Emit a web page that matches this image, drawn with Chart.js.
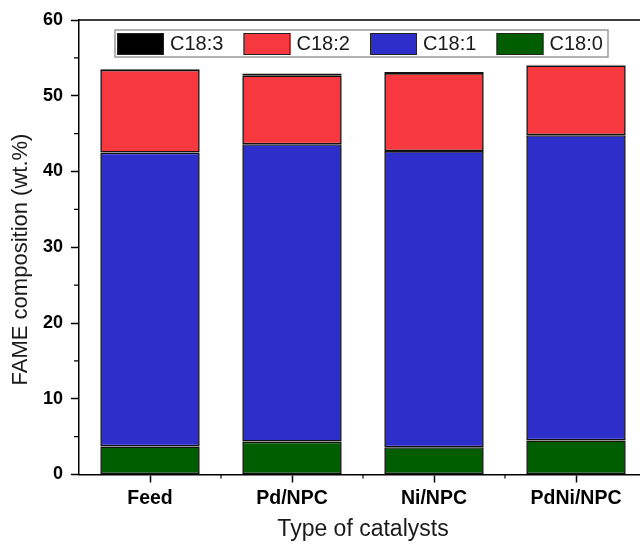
<!DOCTYPE html>
<html>
<head>
<meta charset="utf-8">
<script src="https://cdn.jsdelivr.net/npm/chart.js@4"></script>
<style>
html,body{margin:0;padding:0;overflow:hidden;background:#fff;}
#wrap{position:relative;width:660px;height:545px;}
</style>
</head>
<body>
<div id="wrap"><canvas id="c"></canvas></div>
<script>
const categories = ['Feed', 'Pd/NPC', 'Ni/NPC', 'PdNi/NPC'];
const seriesLabels = ['C18:0', 'C18:1', 'C18:2', 'C18:3'];
const c180 = [3.7, 4.35, 3.6, 4.5];
const c181 = [38.8, 39.25, 39.1, 40.3];
const c182 = [10.9, 9.1, 10.3, 9.2];
const c183 = [0.1, 0.25, 0.15, 0.1];
const seriesColors = ['#005E00', '#2E2ECB', '#F8383F', '#000000'];
const yMin = 0, yMax = 60, yMajorStep = 10, yMinorStep = 5;

const seriesValues = [c180, c181, c182, c183];

const framePlugin = {
  id: 'frameAndLegend',
  afterDraw(chart) {
    const ctx = chart.ctx;
    const a = chart.chartArea;
    const xs = chart.scales.x, ys = chart.scales.y;
    ctx.save();
    ctx.strokeStyle = '#000';
    ctx.lineWidth = 1.5;
    ctx.beginPath();
    ctx.moveTo(a.left, a.top);
    ctx.lineTo(a.right, a.top);
    ctx.lineTo(a.right, a.bottom);
    ctx.stroke();
    ctx.lineWidth = 1.2;
    ctx.beginPath();
    for (let v = yMin + yMinorStep; v < yMax; v += yMajorStep) {
      const py = ys.getPixelForValue(v);
      ctx.moveTo(a.left, py);
      ctx.lineTo(a.left - 5, py);
    }
    for (let i = 0; i < categories.length - 1; i++) {
      const px = (xs.getPixelForValue(i) + xs.getPixelForValue(i + 1)) / 2;
      ctx.moveTo(px, a.bottom);
      ctx.lineTo(px, a.bottom + 4);
    }
    ctx.stroke();
    const bx = 115, by = 30, bw = 493, bh = 27;
    ctx.fillStyle = '#fff';
    ctx.fillRect(bx, by, bw, bh);
    ctx.strokeStyle = '#9a9a9a';
    ctx.lineWidth = 1.5;
    ctx.strokeRect(bx, by, bw, bh);
    ctx.font = '20px "Liberation Sans", Arial, sans-serif';
    ctx.textBaseline = 'middle';
    const order = chart.data.datasets.map((d, i) => i).reverse();
    order.forEach((di, k) => {
      const ds = chart.data.datasets[di];
      const sx = bx + 2 + k * 126.5;
      ctx.fillStyle = ds.backgroundColor;
      ctx.fillRect(sx, by + 3, 47, 22);
      ctx.strokeStyle = '#222';
      ctx.lineWidth = 1;
      ctx.strokeRect(sx + 0.5, by + 3.5, 46, 21);
      ctx.fillStyle = '#1a1a1a';
      ctx.fillText(ds.label, sx + 53, by + bh / 2 + 1);
    });
    ctx.restore();
  }
};

new Chart(document.getElementById('c'), {
  type: 'bar',
  data: {
    labels: categories,
    datasets: seriesLabels.map((lab, i) => ({
      label: lab,
      data: seriesValues[i],
      backgroundColor: seriesColors[i],
      borderColor: '#111',
      borderWidth: 1.6,
      borderSkipped: false,
      categoryPercentage: 1,
      barPercentage: 0.70
    }))
  },
  options: {
    responsive: true,
    maintainAspectRatio: false,
    animation: false,
    layout: { padding: { top: 20, right: 13, left: 0, bottom: 0 } },
    plugins: { legend: { display: false }, tooltip: { enabled: false } },
    scales: {
      x: {
        stacked: true,
        grid: { offset: false, drawOnChartArea: false, tickLength: 8, tickColor: '#000', tickWidth: 1.5 },
        border: { color: '#000', width: 1.5 },
        ticks: { color: '#000', font: { family: '"Liberation Sans", Arial, sans-serif', size: 19.5, weight: 'bold' }, padding: 4, maxRotation: 0 },
        title: { display: true, text: 'Type of catalysts', color: '#1a1a1a', font: { family: '"Liberation Sans", Arial, sans-serif', size: 23 }, padding: { top: 0, bottom: 2 } },
        afterFit(s) { s.height = 70.5; }
      },
      y: {
        stacked: true,
        min: yMin, max: yMax,
        grid: { drawOnChartArea: false, tickLength: 8, tickColor: '#000', tickWidth: 1.5 },
        border: { color: '#000', width: 1.5 },
        ticks: { stepSize: yMajorStep, color: '#000', font: { family: '"Liberation Sans", Arial, sans-serif', size: 18, weight: 'bold' }, padding: 8 },
        title: { display: true, text: 'FAME composition (wt.%)    ', color: '#1a1a1a', font: { family: '"Liberation Sans", Arial, sans-serif', size: 22 }, padding: { top: 8, bottom: 0 } },
        afterFit(s) { s.width = 79; }
      }
    }
  },
  plugins: [framePlugin]
});
</script>
</body>
</html>
